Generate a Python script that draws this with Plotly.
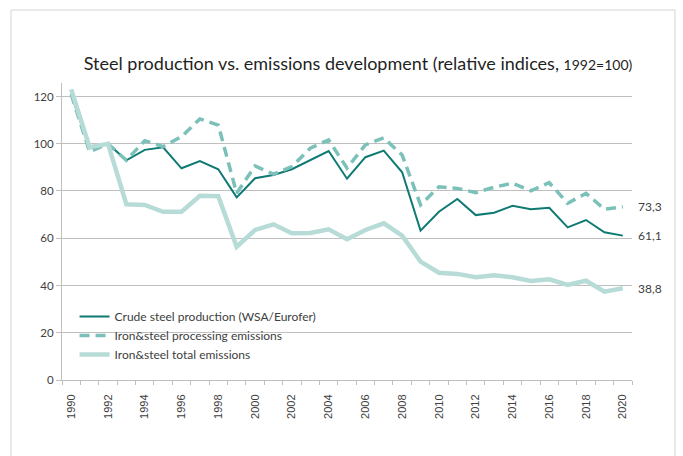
import plotly.graph_objects as go

years = list(range(1990, 2021))

crude_steel = [121, 98.1, 100, 93.0, 97.4, 98.5, 89.6, 92.7, 89.2, 77.3,
               85.4, 86.8, 89.2, 93.1, 96.9, 85.2, 94.3, 97.1, 87.9, 63.2,
               71.2, 76.6, 69.8, 70.8, 73.7, 72.3, 72.9, 64.6, 67.7, 62.5, 61.1]

processing_em = [121, 96.6, 100, 93.0, 101.3, 98.8, 103.0, 110.5, 107.9, 79.0,
                 90.6, 87.1, 90.3, 98.1, 101.6, 89.7, 99.5, 102.5, 95.2, 74.1,
                 81.8, 81.1, 79.3, 81.6, 83.3, 80.1, 83.5, 74.8, 79.0, 72.3, 73.3]

total_em = [123, 98.5, 100, 74.4, 74.1, 71.2, 71.2, 78.0, 77.8, 56.4,
            63.5, 65.9, 62.1, 62.2, 63.8, 59.6, 63.5, 66.3, 61.1, 50.1,
            45.4, 44.9, 43.5, 44.3, 43.5, 41.9, 42.6, 40.2, 42.0, 37.4, 38.8]

series_names = ["Crude steel production (WSA/Eurofer)",
                "Iron&steel processing emissions",
                "Iron&steel total emissions"]

end_labels = ["61,1", "73,3", "38,8"]

x_tick_years = list(range(1990, 2021, 2))
y_ticks = [0, 20, 40, 60, 80, 100, 120]

TEXT = "#404040"
GRID = "#BFBFBF"

fig = go.Figure()
fig.add_trace(go.Scatter(x=years, y=crude_steel, name=series_names[0], mode="lines",
                         line=dict(color="#0F7A73", width=2)))
fig.add_trace(go.Scatter(x=years, y=processing_em, name=series_names[1], mode="lines",
                         line=dict(color="#7CC0BA", width=3.5, dash="10px,6px")))
fig.add_trace(go.Scatter(x=years, y=total_em, name=series_names[2], mode="lines",
                         line=dict(color="#B7DCD7", width=4.5)))

last_vals = [crude_steel[-1], processing_em[-1], total_em[-1]]
for lab, v in zip(end_labels, last_vals):
    fig.add_annotation(x=years[-1], y=v, text=lab, showarrow=False, xanchor="left",
                       yanchor="middle", xshift=13,
                       font=dict(family="Lato", size=12, color=TEXT))

# chart border
fig.add_shape(type="rect", xref="paper", yref="paper",
              x0=(11 - 62) / 570, x1=(675 - 62) / 570,
              y0=(380 - 480) / 297, y1=(380 - 10) / 297,
              line=dict(color="#D4D4D4", width=1), layer="below")

fig.update_layout(
    width=683, height=456,
    margin=dict(l=62, r=51, t=83, b=76),
    paper_bgcolor="white", plot_bgcolor="white",
    title=dict(text='Steel production vs. emissions development (relative indices, <span style="font-size:14px">1992=100)</span>',
               x=358 / 683, xanchor="center", y=1 - 64 / 456, yanchor="middle",
               font=dict(family="Lato", size=18, color="#1F1F1F")),
    legend=dict(x=0.022, y=(380 - 302) / 297, xanchor="left", yanchor="top",
                bgcolor="rgba(0,0,0,0)", font=dict(family="Lato", size=12, color=TEXT),
                tracegroupgap=0),
    showlegend=True,
)

fig.update_xaxes(range=[1989.5, 2020.5], tickvals=x_tick_years,
                 ticktext=[str(y) for y in x_tick_years], tickangle=-90,
                 ticks="", ticklabelstandoff=9, showgrid=False, zeroline=False,
                 showline=True, linecolor=GRID, linewidth=1,
                 tickfont=dict(family="Liberation Sans", size=11, color=TEXT),
                 minor=dict(tickvals=[y + 0.5 for y in range(1989, 2021)], ticks="outside",
                            ticklen=4, tickcolor=GRID, showgrid=False))
fig.update_yaxes(range=[0, 125.7], tickvals=y_ticks, ticks="outside", ticklen=5,
                 tickcolor=GRID, showgrid=True, gridcolor=GRID, gridwidth=1,
                 zeroline=False, showline=True, linecolor=GRID, linewidth=1,
                 tickfont=dict(family="Lato", size=11.5, color=TEXT))

fig.write_html("out.html", post_script="document.body.style.margin='0';",
               config={"displayModeBar": False})
